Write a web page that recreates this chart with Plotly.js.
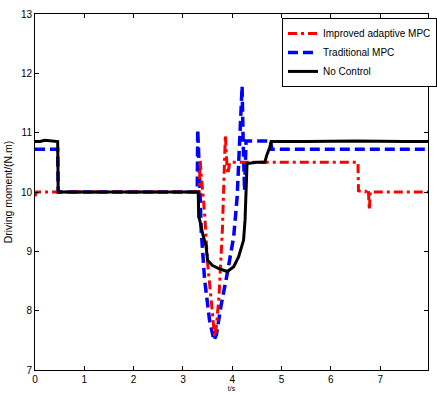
<!DOCTYPE html>
<html>
<head>
<meta charset="utf-8">
<script src="https://cdn.plot.ly/plotly-3.0.1.min.js"></script>
<style>html,body{margin:0;padding:0;background:#fff;}#chart{width:437px;height:393px;}</style>
</head>
<body>
<div id="chart"></div>
<script>
// Improved adaptive MPC
var redT = [0, 0.03, 0.5, 1, 2, 3, 3.33, 3.35, 3.37, 3.44, 3.50, 3.60, 3.64, 3.68, 3.73, 3.80, 3.83, 3.86, 3.89, 3.91, 3.95, 4.5, 5.5, 6.55, 6.56, 6.7, 6.76, 6.78, 6.80, 6.9, 7.5, 8];
var redV = [9.93, 10.0, 10.0, 10.0, 10.0, 10.0, 10.0, 10.54, 10.3, 9.64, 8.80, 7.95, 7.56, 7.75, 8.23, 9.36, 10.2, 10.96, 10.5, 10.3, 10.5, 10.5, 10.5, 10.5, 10.02, 10.0, 10.05, 9.70, 10.0, 10.0, 10.0, 10.0];
// Traditional MPC
var blueT = [0, 0.46, 0.47, 1, 2, 3, 3.29, 3.30, 3.32, 3.34, 3.37, 3.44, 3.54, 3.63, 3.68, 3.77, 3.90, 4.03, 4.10, 4.16, 4.20, 4.22, 4.25, 4.28, 4.5, 4.78, 4.80, 6, 8];
var blueV = [10.72, 10.72, 10.0, 10.0, 10.0, 10.0, 10.0, 11.05, 10.7, 10.2, 9.36, 8.52, 7.84, 7.50, 7.6, 8.07, 8.63, 9.25, 9.92, 11.05, 11.78, 10.9, 10.02, 10.86, 10.86, 10.86, 10.72, 10.72, 10.72];
// No Control
var blackT = [0, 0.1, 0.2, 0.35, 0.46, 0.47, 1, 2, 3, 3.31, 3.32, 3.34, 3.40, 3.47, 3.50, 3.60, 3.73, 3.90, 4.03, 4.13, 4.23, 4.26, 4.30, 4.50, 4.66, 4.70, 4.76, 4.79, 5.5, 6.5, 7.5, 8];
var blackV = [10.85, 10.85, 10.87, 10.86, 10.85, 10.0, 10.0, 10.0, 10.0, 10.0, 9.58, 9.53, 9.30, 9.08, 8.85, 8.76, 8.71, 8.66, 8.74, 8.91, 9.19, 9.53, 10.48, 10.50, 10.50, 10.62, 10.75, 10.85, 10.85, 10.86, 10.85, 10.85];

var xTicks = [0, 1, 2, 3, 4, 5, 6, 7, 8];
var yTicks = [7, 8, 9, 10, 11, 12, 13];

var font = 'Liberation Sans, Arial, Helvetica, sans-serif';

var data = [
  {x: blueT, y: blueV, type: 'scatter', mode: 'lines', name: 'Traditional MPC', legendrank: 2,
   line: {color: '#0000ff', width: 3.5, dash: '10px,5px'}},
  {x: redT, y: redV, type: 'scatter', mode: 'lines', name: 'Improved adaptive MPC', legendrank: 1,
   line: {color: '#ff0000', width: 3, dash: '9px,4px,3px,4px'}},
  {x: blackT, y: blackV, type: 'scatter', mode: 'lines', name: 'No Control', legendrank: 3,
   line: {color: '#000000', width: 3}}
];

var layout = {
  width: 437, height: 393,
  margin: {l: 35, r: 0, t: 14, b: 23},
  paper_bgcolor: '#fff', plot_bgcolor: '#fff',
  font: {family: font, size: 10, color: '#000'},
  showlegend: true,
  legend: {x: 0.629, y: 0.989, xanchor: 'left', yanchor: 'top',
    bgcolor: '#fff', bordercolor: '#000', borderwidth: 1,
    font: {family: font, size: 10, color: '#000'}, tracegroupgap: 0},
  xaxis: {range: [0, 7.97], tickvals: xTicks, ticktext: xTicks.map(String),
    showline: true, linecolor: '#000', linewidth: 1, mirror: 'ticks',
    ticks: 'inside', ticklen: 4, tickcolor: '#000', showgrid: false, zeroline: false,
    tickfont: {size: 10}, automargin: false,
    title: {text: 't/s', font: {size: 7}, standoff: 2}},
  yaxis: {range: [7, 13], tickvals: yTicks, ticktext: yTicks.map(String),
    showline: true, linecolor: '#000', linewidth: 1, mirror: 'ticks',
    ticks: 'inside', ticklen: 4, tickcolor: '#000', showgrid: false, zeroline: false,
    tickfont: {size: 10}, automargin: false,
    title: {text: 'Driving moment/(N.m)', font: {size: 10.5}, standoff: 6}}
};

Plotly.newPlot('chart', data, layout, {displayModeBar: false, staticPlot: true});
</script>
</body>
</html>
